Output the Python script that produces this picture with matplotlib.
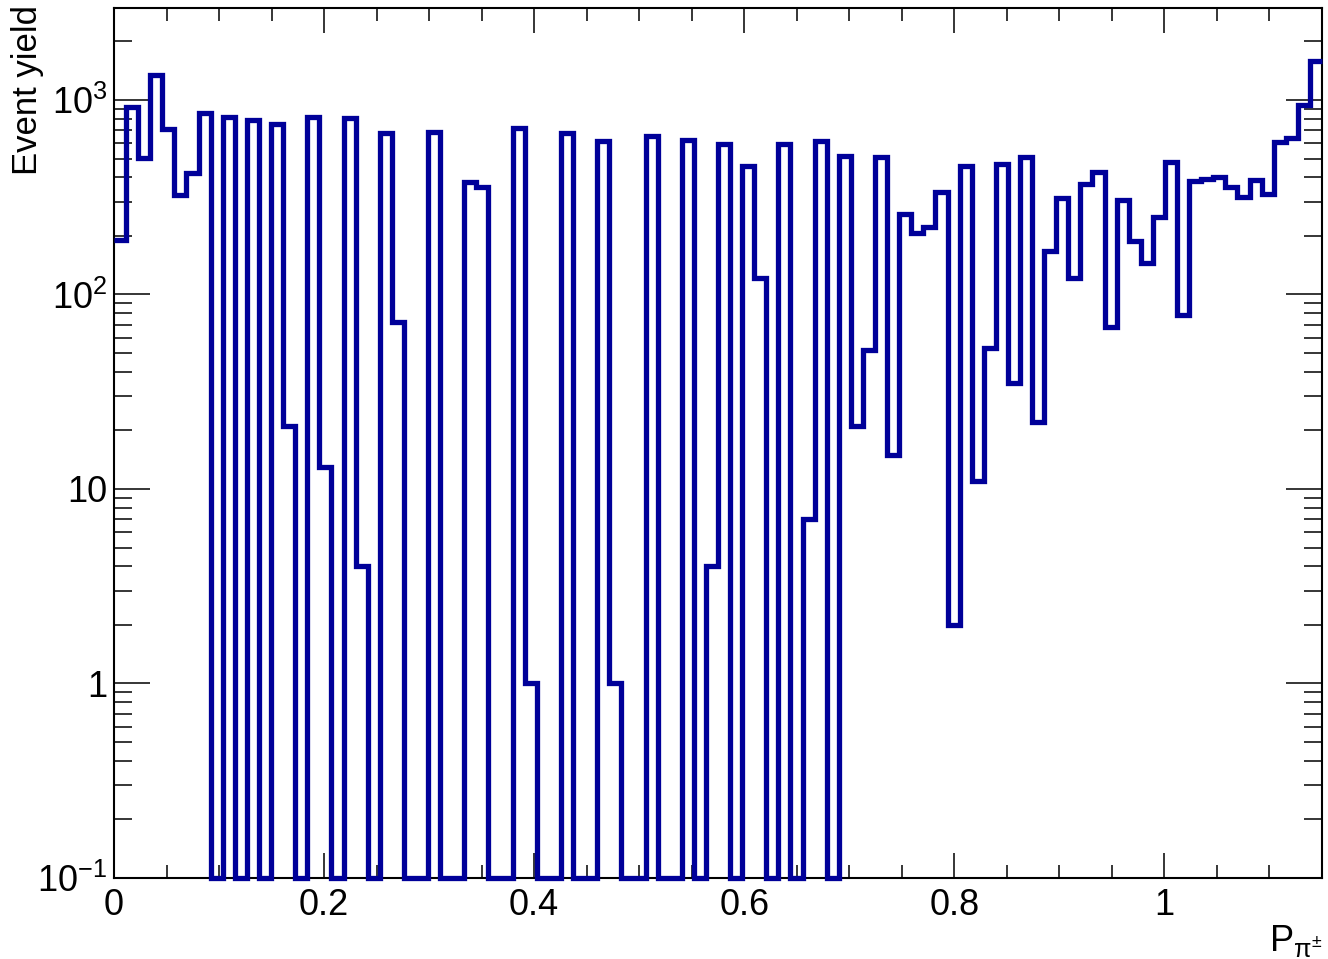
import numpy as np
import matplotlib
matplotlib.use("Agg")
import matplotlib.pyplot as plt
from matplotlib.ticker import FixedLocator, FixedFormatter, MultipleLocator, LogLocator, NullFormatter

plt.rcParams['font.family'] = ['Liberation Sans', 'DejaVu Sans']
plt.rcParams['mathtext.fontset'] = 'custom'
plt.rcParams['mathtext.rm'] = 'Liberation Sans'
plt.rcParams['mathtext.it'] = 'Liberation Sans:italic'
plt.rcParams['mathtext.bf'] = 'Liberation Sans:bold'

# ---- data ----
x_min, x_max, n_bins = 0.0, 1.15, 100
counts = [
    190, 925, 505, 1340, 705, 325, 420, 855, 0, 815,
    0, 790, 0, 755, 21, 0, 815, 13, 0, 805,
    4, 0, 675, 72, 0, 0, 687, 0, 0, 380,
    357, 0, 0, 719, 1, 0, 0, 675, 0, 0,
    614, 1, 0, 0, 653, 0, 0, 625, 0, 4,
    594, 0, 460, 121, 0, 594, 0, 7, 614, 0,
    513, 21, 52, 507, 15, 260, 208, 222, 336, 2,
    460, 11, 53, 466, 35, 507, 22, 167, 315, 121,
    369, 424, 68, 305, 188, 145, 250, 482, 78, 385,
    390, 404, 358, 318, 388, 329, 611, 635, 942, 1592,
]
y_min, y_max = 0.1, 2970
y_ticks = [0.1, 1, 10, 100, 1000]
y_tick_labels = [r'$\mathregular{10^{-1}}$', '1', '10', r'$\mathregular{10^{2}}$', r'$\mathregular{10^{3}}$']
x_ticks = [0, 0.2, 0.4, 0.6, 0.8, 1.0]
x_tick_labels = ['0', '0.2', '0.4', '0.6', '0.8', '1']
x_title = r'$\mathregular{P_{\pi^{\pm}}}$'
y_title = 'Event yield'

# ---- figure ----
W, H = 1328, 959
fig = plt.figure(figsize=(W / 100, H / 100), dpi=100)
ax = fig.add_axes([114 / W, (H - 878) / H, (1322 - 114) / W, (878 - 8) / H])

edges = np.linspace(x_min, x_max, n_bins + 1)
vals = np.asarray(counts, dtype=float)
draw_vals = np.where(vals > 0, vals, y_min)
ax.stairs(draw_vals, edges, baseline=None, color='#000099', linewidth=3.8,
          clip_on=False, zorder=3)

ax.set_yscale('log')
ax.set_xlim(x_min, x_max)
ax.set_ylim(y_min, y_max)

ax.xaxis.set_major_locator(FixedLocator(x_ticks))
ax.xaxis.set_major_formatter(FixedFormatter(x_tick_labels))
ax.xaxis.set_minor_locator(MultipleLocator(0.05))
ax.yaxis.set_major_locator(FixedLocator(y_ticks))
ax.yaxis.set_major_formatter(FixedFormatter(y_tick_labels))
ax.yaxis.set_minor_locator(LogLocator(base=10, subs=np.arange(2, 10), numticks=20))
ax.yaxis.set_minor_formatter(NullFormatter())

for s in ax.spines.values():
    s.set_linewidth(1.5)
    s.set_color('black')

ax.tick_params(which='both', direction='in', top=True, right=True, labelsize=26,
               width=1.1, color='black')
ax.tick_params(axis='x', which='major', length=18, pad=7)
ax.tick_params(axis='x', which='minor', length=9.5)
ax.tick_params(axis='y', which='major', length=26, pad=5)
ax.tick_params(axis='y', which='minor', length=13)

ax.set_xlabel(x_title, fontsize=26, loc='right', labelpad=0)
ax.set_ylabel(y_title, fontsize=25, rotation=90, ha='center', va='top')
ax.yaxis.set_label_coords((27 - 114) / (1322 - 114), 1.0, transform=None)
ax.yaxis.label.set_transform(ax.transAxes)
ax.yaxis.label.set_position(((27 - 114) / (1322 - 114), 1 + 3 / (878 - 8)))
ax.yaxis.label.set_horizontalalignment('right')
ax.yaxis.label.set_verticalalignment('center')

fig.savefig('out.png', dpi=100)
